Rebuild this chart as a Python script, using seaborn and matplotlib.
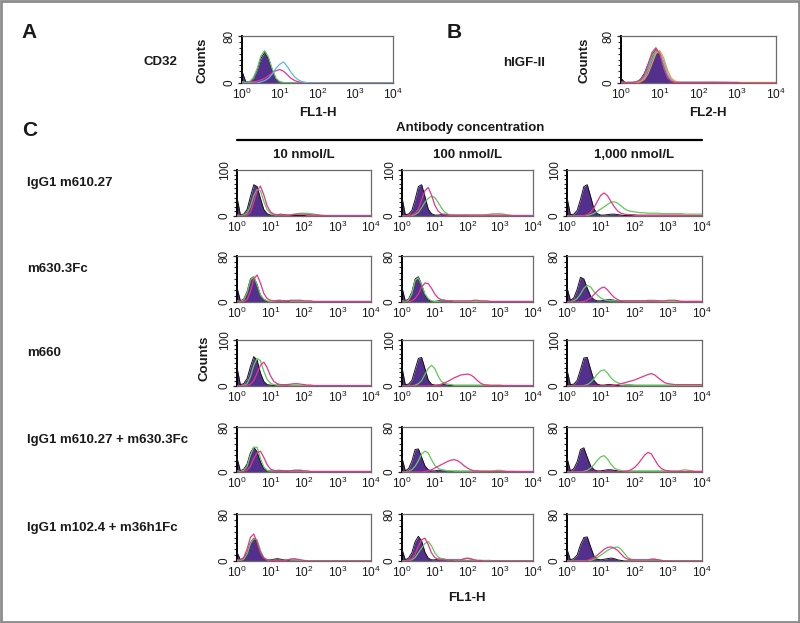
import numpy as np
import matplotlib
matplotlib.use('Agg')
import matplotlib.pyplot as plt
import seaborn as sns
from matplotlib.patches import Rectangle
from matplotlib.lines import Line2D
from matplotlib.ticker import FixedLocator, FixedFormatter, MultipleLocator

sns.set_style('white')
plt.rcParams['font.family'] = ['Liberation Sans', 'DejaVu Sans']
plt.rcParams['mathtext.fontset'] = 'custom'
plt.rcParams['mathtext.rm'] = 'Liberation Sans'
plt.rcParams['mathtext.it'] = 'Liberation Sans:italic'
plt.rcParams['mathtext.bf'] = 'Liberation Sans:bold'
plt.rcParams['mathtext.default'] = 'regular'

# ---------------- data ----------------
# channel positions: log10 of fluorescence, 0.1-decade bins from 10^0 to 10^4
log_fl = np.round(np.arange(41) / 10, 1)
x_ticks = [1, 10, 100, 1000, 10000]
x_tick_labels = [r'$10^{0}$', r'$10^{1}$', r'$10^{2}$', r'$10^{3}$', r'$10^{4}$']

# Panel A: CD32 (FL1-H)
a_ctrl  = [20,2,2,8,22,42,52,42,22,7, 2,0,0,0,0,0,0,0,0,0, 0,0,0,0,0,0,0,0,0,0, 0,0,0,0,0,0,0,0,0,0,0]
a_green = [2,1,2,9,24,46,55,44,24,8, 2,1,0,0,0,0,0,0,0,0, 0,0,0,0,0,0,0,0,0,0, 0,0,0,0,0,0,0,0,0,0,0]
a_pink  = [0,0,1,2,3,5,8,12,17,21, 23,20,14,8,4,2,1,0,0,0, 0,0,0,0,0,0,0,0,0,0, 0,0,0,0,0,0,0,0,0,0,0]
a_cyan  = [0,0,0,0,0,2,4,8,15,25, 32,36,28,18,10,5,2,1,0,0, 0,0,0,0,0,0,0,0,0,0, 0,0,0,0,0,0,0,0,0,0,0]

# Panel B: hIGF-II (FL2-H)
b_ctrl   = [8,1,1,1,2,6,16,32,48,57, 48,30,12,4,1,1,1,1,1,1, 1,1,1,1,1,1,1,1,1,0, 0,0,0,0,0,0,0,0,0,0,0]
b_pink   = [1,1,1,1,2,5,14,32,52,60, 50,26,9,3,1,1,1,1,1,1, 1,1,1,1,1,1,1,1,1,1, 1,0,0,0,0,0,0,0,0,0,0]
b_green  = [1,1,1,1,2,5,13,28,46,55, 50,31,13,4,1,1,1,1,1,1, 1,1,1,1,1,1,0,0,0,0, 0,0,0,0,0,0,0,0,0,0,0]
b_cyan   = [1,0,0,0,1,3,9,22,40,52, 53,37,16,5,1,1,1,1,1,1, 1,1,1,1,1,1,1,1,0,0, 0,0,0,0,0,0,0,0,0,0,0]
b_orange = [1,0,0,0,1,2,6,16,33,50, 55,43,22,8,3,1,1,1,1,1, 1,1,1,1,1,1,1,1,1,1, 1,1,1,1,1,1,1,1,1,1,1]

# Panel C: rows = antibodies, cols = concentration
c11_ctrl  = [40,3,4,14,42,68,64,38,14,5, 2,2,3,4,3,2,1,1,1,1, 1,0,0,0,0,0,0,0,0,0, 0,0,0,0,0,0,0,0,0,0,0]
c11_green = [2,1,2,6,20,44,58,55,32,14, 6,3,2,2,2,2,3,4,5,6, 6,6,5,4,3,2,1,1,0,0, 0,0,0,0,0,0,0,0,0,0,0]
c11_pink  = [0,0,0,2,8,30,55,65,46,22, 9,4,3,2,2,2,2,3,4,4, 4,3,3,2,2,1,1,1,1,1, 1,1,1,1,1,1,1,1,1,1,1]

c12_ctrl  = [40,3,4,12,36,64,68,42,15,5, 2,2,3,4,3,2,1,1,1,1, 1,0,0,0,0,0,0,0,0,0, 0,0,0,0,0,0,0,0,0,0,0]
c12_green = [0,0,0,1,3,8,18,30,38,43, 40,30,18,9,4,2,2,2,2,2, 2,2,2,2,2,2,3,4,5,5, 5,4,3,2,1,1,1,1,1,1,1]
c12_pink  = [0,0,1,2,6,15,35,55,62,46, 24,11,5,3,2,2,2,2,2,2, 2,2,2,2,2,2,2,2,2,2, 2,2,1,1,1,1,1,1,1,1,1]

c13_ctrl  = [40,3,4,12,36,64,68,42,15,5, 2,2,3,4,4,3,2,1,1,1, 0,0,0,0,0,0,0,0,0,0, 0,0,0,0,0,0,0,0,0,0,0]
c13_green = [0,0,0,0,0,0,1,3,6,10, 15,20,25,30,31,28,22,16,12,10, 9,8,7,7,6,6,6,6,5,5, 5,5,5,5,5,4,4,4,4,4,4]
c13_pink  = [0,0,0,0,0,1,3,8,18,32, 45,50,44,32,20,11,6,4,3,3, 3,2,2,2,2,2,2,2,2,2, 2,2,2,2,2,1,1,1,1,1,1]

c21_ctrl  = [25,2,5,18,40,44,30,12,4,1, 1,1,3,3,2,1,0,0,0,0, 0,0,0,0,0,0,0,0,0,0, 0,0,0,0,0,0,0,0,0,0,0]
c21_green = [2,1,4,16,38,44,30,12,5,2, 1,1,2,2,2,2,2,2,2,2, 1,1,0,0,0,0,0,0,0,0, 0,0,0,0,0,0,0,0,0,0,0]
c21_pink  = [0,0,1,4,18,40,47,33,15,6, 3,2,2,2,2,2,3,3,3,3, 2,2,2,1,1,1,1,1,1,1, 1,1,1,1,1,1,1,1,1,1,1]

c22_ctrl  = [25,2,5,17,40,44,30,12,4,1, 1,2,3,3,2,1,0,0,0,0, 0,0,0,0,0,0,0,0,0,0, 0,0,0,0,0,0,0,0,0,0,0]
c22_green = [2,1,3,14,38,42,30,14,6,2, 1,1,2,2,2,2,1,1,1,1, 1,1,1,1,1,1,0,0,0,0, 0,0,0,0,0,0,0,0,0,0,0]
c22_pink  = [0,0,0,2,6,14,26,33,32,24, 14,7,4,3,2,2,2,2,2,2, 2,2,3,3,2,2,2,1,1,1, 1,1,1,1,1,1,1,1,1,1,1]

c23_ctrl  = [25,3,7,22,43,40,24,10,4,2, 2,3,4,4,3,2,1,0,0,0, 0,0,0,0,0,0,0,0,0,0, 0,0,0,0,0,0,0,0,0,0,0]
c23_green = [0,0,2,6,14,24,29,26,18,12, 7,4,3,2,2,2,2,2,2,2, 2,2,2,2,3,3,3,2,1,1, 1,1,1,1,1,1,1,1,1,1,1]
c23_pink  = [0,0,0,0,0,1,3,7,13,19, 24,26,21,14,8,4,2,2,2,2, 2,2,2,2,2,2,2,2,2,2, 3,3,3,2,1,1,1,1,1,1,1]

c31_ctrl  = [40,3,5,16,42,64,56,28,10,3, 2,1,2,3,2,1,0,0,0,0, 0,0,0,0,0,0,0,0,0,0, 0,0,0,0,0,0,0,0,0,0,0]
c31_green = [0,0,1,5,20,45,60,55,32,14, 6,3,2,2,2,2,2,2,2,1, 1,1,1,0,0,0,0,0,0,0, 0,0,0,0,0,0,0,0,0,0,0]
c31_pink  = [0,0,0,1,4,12,28,45,52,40, 22,10,5,3,3,3,4,5,5,4, 3,2,2,1,1,1,1,1,1,1, 1,1,1,1,1,1,1,1,1,1,1]

c32_ctrl  = [40,3,4,12,36,60,62,38,13,4, 2,2,3,3,2,1,0,0,0,0, 0,0,0,0,0,0,0,0,0,0, 0,0,0,0,0,0,0,0,0,0,0]
c32_green = [0,0,0,0,2,5,12,25,38,45, 38,22,10,6,4,3,2,2,2,2, 2,2,2,2,2,2,2,2,2,2, 2,1,1,1,1,0,0,0,0,0,0]
c32_pink  = [0,0,0,0,0,0,0,0,0,0, 1,2,4,7,10,14,18,21,24,25, 26,24,19,12,6,3,2,1,1,1, 1,1,1,1,1,1,1,1,1,1,1]

c33_ctrl  = [35,3,4,12,36,61,62,36,12,4, 2,2,3,3,2,1,0,0,0,0, 0,0,0,0,0,0,0,0,0,0, 0,0,0,0,0,0,0,0,0,0,0]
c33_green = [0,0,0,0,0,1,3,8,16,26, 33,35,28,18,11,7,5,4,3,3, 2,2,2,2,2,2,2,2,2,2, 2,2,1,1,1,1,1,1,1,1,1]
c33_pink  = [0,0,0,0,0,0,0,0,0,0, 0,0,0,1,2,3,5,7,9,11, 13,16,19,22,25,27,24,18,12,7, 5,4,3,3,3,3,3,3,3,3,3]

c41_ctrl  = [25,2,5,14,34,44,36,18,6,2, 2,2,3,3,2,1,0,0,0,0, 0,0,0,0,0,0,0,0,0,0, 0,0,0,0,0,0,0,0,0,0,0]
c41_green = [2,1,3,10,30,44,44,24,9,3, 2,2,2,2,2,2,2,3,3,3, 2,1,0,0,0,0,0,0,0,0, 0,0,0,0,0,0,0,0,0,0,0]
c41_pink  = [0,0,1,3,10,24,34,37,26,13, 5,3,2,2,2,2,2,3,3,3, 2,2,1,1,1,1,1,1,1,1, 1,1,1,1,1,1,1,1,1,1,1]

c42_ctrl  = [25,2,6,19,40,41,26,11,4,2, 2,3,3,3,2,1,0,0,0,0, 0,0,0,0,0,0,0,0,0,0, 0,0,0,0,0,0,0,0,0,0,0]
c42_green = [0,0,1,4,10,20,32,37,34,22, 12,7,4,3,2,2,2,2,2,2, 2,2,2,2,2,2,2,2,2,3, 3,2,1,1,1,0,0,0,0,0,0]
c42_pink  = [0,0,0,0,0,0,0,1,2,4, 7,10,13,16,19,21,22,20,16,11, 7,4,2,2,1,1,1,1,1,1, 1,1,1,1,1,1,1,1,1,1,1]

c43_ctrl  = [25,2,6,18,40,43,26,11,4,2, 2,3,4,4,3,2,1,0,0,0, 0,0,0,0,0,0,0,0,0,0, 0,0,0,0,0,0,0,0,0,0,0]
c43_green = [0,0,0,0,0,1,3,7,13,21, 27,29,23,14,7,4,3,2,2,2, 2,2,2,2,2,2,2,2,2,2, 2,2,2,2,3,4,3,2,1,1,1]
c43_pink  = [0,0,0,0,0,0,0,0,0,0, 0,0,0,0,0,0,0,1,2,4, 8,14,22,30,35,32,22,12,6,3, 2,1,1,1,1,1,1,1,1,1,1]

c51_ctrl  = [15,2,5,14,31,39,32,15,5,2, 2,3,4,3,2,1,0,0,0,0, 0,0,0,0,0,0,0,0,0,0, 0,0,0,0,0,0,0,0,0,0,0]
c51_green = [1,1,3,12,30,38,36,18,6,2, 1,1,1,1,1,2,3,3,2,1, 0,0,0,0,0,0,0,0,0,0, 0,0,0,0,0,0,0,0,0,0,0]
c51_pink  = [2,2,6,20,40,46,32,14,5,2, 1,1,1,1,1,2,3,4,3,2, 1,0,0,0,0,0,0,0,0,0, 0,0,0,0,0,0,0,0,0,0,0]

c52_ctrl  = [20,2,5,14,33,42,34,15,5,2, 2,3,4,3,2,1,0,0,0,0, 0,0,0,0,0,0,0,0,0,0, 0,0,0,0,0,0,0,0,0,0,0]
c52_green = [0,0,1,2,6,14,22,30,33,26, 14,7,4,3,2,2,2,2,2,3, 4,3,2,1,1,1,1,1,0,0, 0,0,0,0,0,0,0,0,0,0,0]
c52_pink  = [0,0,1,4,12,25,36,39,28,14, 6,3,2,2,2,2,2,2,2,4, 5,4,2,1,1,0,0,0,0,0, 0,0,0,0,0,0,0,0,0,0,0]

c53_ctrl  = [20,2,4,10,28,40,41,24,8,3, 2,3,4,5,4,2,1,0,0,0, 0,0,0,0,0,0,0,0,0,0, 0,0,0,0,0,0,0,0,0,0,0]
c53_green = [0,0,0,0,0,0,0,1,3,6, 10,14,18,21,23,24,20,13,6,3, 2,2,2,2,2,3,3,2,1,0, 0,0,0,0,0,0,0,0,0,0,0]
c53_pink  = [0,0,0,0,0,0,1,3,6,10, 15,20,23,24,22,18,12,6,3,2, 2,2,2,2,2,3,3,2,1,0, 0,0,0,0,0,0,0,0,0,0,0]

row_labels = ['IgG1 m610.27', 'm630.3Fc', 'm660', 'IgG1 m610.27 + m630.3Fc', 'IgG1 m102.4 + m36h1Fc']
col_labels = ['10 nmol/L', '100 nmol/L', '1,000 nmol/L']
row_ymax = [100, 80, 100, 80, 80]

c_data = [
    [(c11_ctrl, c11_green, c11_pink), (c12_ctrl, c12_green, c12_pink), (c13_ctrl, c13_green, c13_pink)],
    [(c21_ctrl, c21_green, c21_pink), (c22_ctrl, c22_green, c22_pink), (c23_ctrl, c23_green, c23_pink)],
    [(c31_ctrl, c31_green, c31_pink), (c32_ctrl, c32_green, c32_pink), (c33_ctrl, c33_green, c33_pink)],
    [(c41_ctrl, c41_green, c41_pink), (c42_ctrl, c42_green, c42_pink), (c43_ctrl, c43_green, c43_pink)],
    [(c51_ctrl, c51_green, c51_pink), (c52_ctrl, c52_green, c52_pink), (c53_ctrl, c53_green, c53_pink)],
]

for row in c_data:
    for trip in row:
        for v in trip:
            assert len(v) == 41, len(v)
for v in [a_ctrl, a_green, a_pink, a_cyan, b_ctrl, b_pink, b_green, b_cyan, b_orange]:
    assert len(v) == 41, len(v)

# ---------------- style ----------------
PURPLE = '#54308e'
GREEN = '#62c85a'
PINK = '#e6358c'
CYAN = '#5fb6e6'
ORANGE = '#f59a3c'
TXT = '#1a1a1a'

W, H = 800, 623
fig = plt.figure(figsize=(W / 100, H / 100), dpi=100)
fig.patch.set_facecolor('white')


def add_ax(l, t, r, b):
    return fig.add_axes([l / W, 1 - b / H, (r - l) / W, (b - t) / H])


def ftext(x, y, s, **kw):
    kw.setdefault('color', TXT)
    fig.text(x / W, 1 - y / H, s, **kw)


xs = 10.0 ** log_fl


def draw_hist(ax, ctrl, lines, ymax):
    ax.set_xscale('log')
    ax.fill_between(xs, ctrl, 0, color=PURPLE, lw=0, zorder=2)
    sns.lineplot(x=xs, y=ctrl, ax=ax, color='#151515', lw=0.7, zorder=3)
    for vals, col in lines:
        sns.lineplot(x=xs, y=vals, ax=ax, color=col, lw=0.9, zorder=4)
    ax.set_xlim(1, 1e4)
    ax.set_ylim(0, ymax)
    ax.set_xlabel('')
    ax.set_ylabel('')
    ax.xaxis.set_major_locator(FixedLocator(x_ticks))
    ax.xaxis.set_major_formatter(FixedFormatter(x_tick_labels))
    ax.xaxis.set_minor_locator(FixedLocator([]))
    ax.yaxis.set_major_locator(FixedLocator([0, ymax]))
    ax.yaxis.set_major_formatter(FixedFormatter(['0', str(ymax)]))
    ax.yaxis.set_minor_locator(MultipleLocator(10))
    ax.tick_params(axis='x', which='both', length=0, pad=3, labelsize=8.6, labelcolor=TXT)
    ax.tick_params(axis='y', which='major', length=3, width=0.9, pad=1.5, labelsize=8.5,
                   labelcolor=TXT, left=True, direction='out')
    ax.tick_params(axis='y', which='minor', length=2, width=0.8, left=True, direction='out')
    for lab in ax.get_yticklabels():
        lab.set_rotation(90)
        lab.set_va('center')
    for s in ['top', 'right', 'bottom']:
        ax.spines[s].set_color('#6a6a6a')
        ax.spines[s].set_linewidth(0.9)
    ax.spines['left'].set_color('black')
    ax.spines['left'].set_linewidth(1.4)
    ax.set_facecolor('white')
    ax.grid(False)


# Panel A
axA = add_ax(242, 36, 393, 83)
draw_hist(axA, a_ctrl, [(a_green, GREEN), (a_pink, PINK), (a_cyan, CYAN)], 80)
# Panel B
axB = add_ax(621, 36, 776, 83)
draw_hist(axB, b_ctrl, [(b_green, GREEN), (b_cyan, CYAN), (b_orange, ORANGE), (b_pink, PINK)], 80)

# Panel C
col_lr = [(237, 371), (402, 533), (567, 702)]
row_tb = [(170, 216), (256, 302), (340, 386), (427, 472), (514, 561)]
for i, (t, b) in enumerate(row_tb):
    for j, (l, r) in enumerate(col_lr):
        ax = add_ax(l, t, r, b)
        ctrl, green, pink = c_data[i][j]
        draw_hist(ax, ctrl, [(green, GREEN), (pink, PINK)], row_ymax[i])

# ---------------- texts ----------------
ftext(29, 32, 'A', fontsize=15, fontweight='bold', ha='center', va='center')
ftext(454, 32, 'B', fontsize=15, fontweight='bold', ha='center', va='center')
ftext(30, 131, 'C', fontsize=15, fontweight='bold', ha='center', va='center')

ftext(160, 62, 'CD32', fontsize=9.5, fontweight='bold', ha='center', va='center')
ftext(524, 63, 'hIGF-II', fontsize=9.5, fontweight='bold', ha='center', va='center')

ftext(203, 60, 'Counts', fontsize=9.5, fontweight='bold', ha='center', va='center', rotation=90)
ftext(584, 60, 'Counts', fontsize=9.5, fontweight='bold', ha='center', va='center', rotation=90)
ftext(204, 358, 'Counts', fontsize=9.5, fontweight='bold', ha='center', va='center', rotation=90)

ftext(318, 113, 'FL1-H', fontsize=9.5, fontweight='bold', ha='center', va='center')
ftext(708, 113, 'FL2-H', fontsize=9.5, fontweight='bold', ha='center', va='center')
ftext(467, 598, 'FL1-H', fontsize=9.5, fontweight='bold', ha='center', va='center')

ftext(470, 128, 'Antibody concentration', fontsize=9.5, fontweight='bold', ha='center', va='center')
fig.add_artist(Line2D([237 / W, 702 / W], [1 - 140 / H, 1 - 140 / H], color='black', lw=1.6))
for (l, r), lab in zip(col_lr, col_labels):
    ftext((l + r) / 2, 155, lab, fontsize=9.5, fontweight='bold', ha='center', va='center')

for (t, b), lab in zip(row_tb, row_labels):
    ftext(27, (t + b) / 2 - 10, lab, fontsize=9.5, fontweight='bold', ha='left', va='center')

fig.add_artist(Rectangle((1 / W, 1 / H), (W - 2) / W, (H - 2) / H, transform=fig.transFigure,
                         fill=False, edgecolor='#8c8c8c', lw=2))

fig.savefig('out.png', dpi=100, facecolor='white')
